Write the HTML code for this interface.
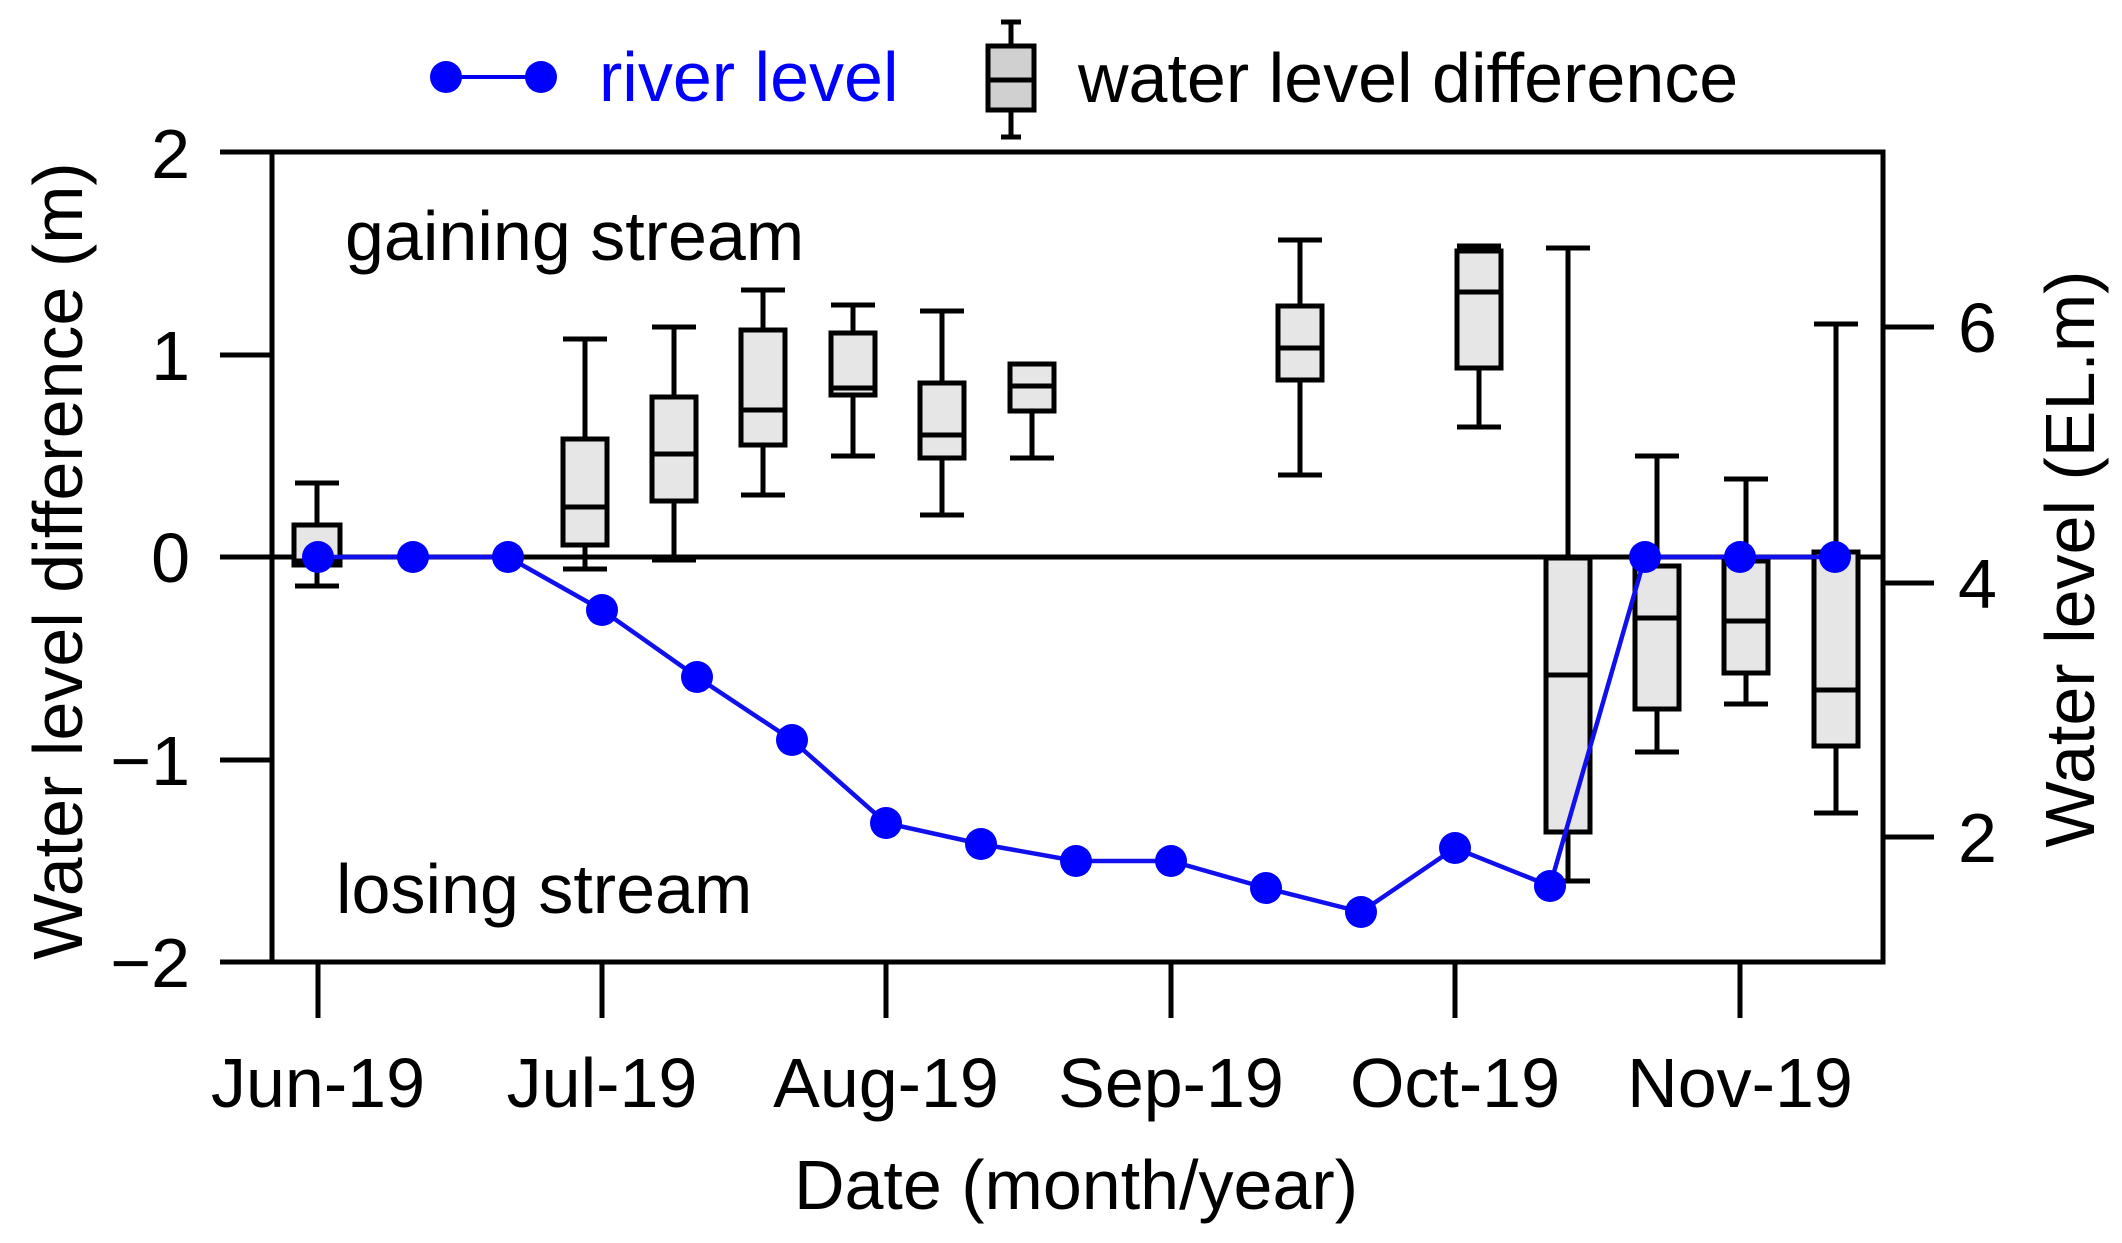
<!DOCTYPE html>
<html><head><meta charset="utf-8"><style>
html,body{margin:0;padding:0;background:#fff;}
svg{display:block;}
text{font-family:"Liberation Sans",Arial,sans-serif;font-size:70px;fill:#000;}
</style></head><body>
<svg width="2122" height="1243" viewBox="0 0 2122 1243" xmlns="http://www.w3.org/2000/svg">
<!-- legend -->
<line x1="446" y1="77" x2="541" y2="77" stroke="#0000ee" stroke-width="4"/>
<circle cx="446" cy="77" r="16" fill="#0000ff"/>
<circle cx="541" cy="77" r="16" fill="#0000ff"/>
<text x="599" y="101" style="fill:#0000ff">river level</text>
<g stroke="#000" stroke-width="5" fill="none">
<line x1="1011" y1="22" x2="1011" y2="46"/><line x1="1001" y1="22" x2="1021" y2="22"/>
<line x1="1011" y1="110" x2="1011" y2="137"/><line x1="1001" y1="137" x2="1021" y2="137"/>
<rect x="988" y="46" width="46" height="64" fill="#d0d0d0"/>
<line x1="988" y1="80" x2="1034" y2="80"/>
</g>
<text x="1078" y="102">water level difference</text>

<!-- axes -->
<g stroke="#000" stroke-width="5" fill="none">
<rect x="272" y="152" width="1611" height="810"/>
<line x1="220" y1="152" x2="272" y2="152"/>
<line x1="220" y1="355" x2="272" y2="355"/>
<line x1="220" y1="557" x2="1883" y2="557"/>
<line x1="220" y1="760" x2="272" y2="760"/>
<line x1="220" y1="962" x2="272" y2="962"/>
<line x1="1883" y1="327" x2="1934" y2="327"/>
<line x1="1883" y1="583" x2="1934" y2="583"/>
<line x1="1883" y1="837" x2="1934" y2="837"/>
<line x1="318" y1="962" x2="318" y2="1018"/>
<line x1="602" y1="962" x2="602" y2="1018"/>
<line x1="886" y1="962" x2="886" y2="1018"/>
<line x1="1171" y1="962" x2="1171" y2="1018"/>
<line x1="1455" y1="962" x2="1455" y2="1018"/>
<line x1="1740" y1="962" x2="1740" y2="1018"/>
</g>
<g text-anchor="end">
<text x="190" y="178">2</text>
<text x="190" y="380">1</text>
<text x="190" y="582">0</text>
<text x="190" y="785">−1</text>
<text x="190" y="987">−2</text>
</g>
<g>
<text x="1958" y="352">6</text>
<text x="1958" y="608">4</text>
<text x="1958" y="862">2</text>
</g>
<g text-anchor="middle">
<text x="318" y="1107">Jun-19</text>
<text x="602" y="1107">Jul-19</text>
<text x="886" y="1107">Aug-19</text>
<text x="1171" y="1107">Sep-19</text>
<text x="1455" y="1107">Oct-19</text>
<text x="1740" y="1107">Nov-19</text>
<text x="1076" y="1209">Date (month/year)</text>
<text transform="translate(82,561) rotate(-90)">Water level difference (m)</text>
<text transform="translate(2094,559) rotate(-90)">Water level (EL.m)</text>
</g>
<text x="345" y="260">gaining stream</text>
<text x="336" y="913">losing stream</text>

<!-- boxes -->
<g stroke="#000" stroke-width="5" fill="#e6e6e6">
<line x1="317" y1="483" x2="317" y2="586"/><line x1="295" y1="483" x2="339" y2="483"/><line x1="295" y1="586" x2="339" y2="586"/>
<rect x="294" y="525" width="46" height="40"/><line x1="294" y1="561" x2="340" y2="561"/>
<line x1="585" y1="339" x2="585" y2="569"/><line x1="563" y1="339" x2="607" y2="339"/><line x1="563" y1="569" x2="607" y2="569"/>
<rect x="563" y="439" width="44" height="106"/><line x1="563" y1="507" x2="607" y2="507"/>
<line x1="674" y1="327" x2="674" y2="560"/><line x1="652" y1="327" x2="696" y2="327"/><line x1="652" y1="560" x2="696" y2="560"/>
<rect x="652" y="397" width="44" height="104"/><line x1="652" y1="454" x2="696" y2="454"/>
<line x1="763" y1="290" x2="763" y2="495"/><line x1="741" y1="290" x2="785" y2="290"/><line x1="741" y1="495" x2="785" y2="495"/>
<rect x="741" y="330" width="44" height="115"/><line x1="741" y1="410" x2="785" y2="410"/>
<line x1="853" y1="305" x2="853" y2="456"/><line x1="831" y1="305" x2="875" y2="305"/><line x1="831" y1="456" x2="875" y2="456"/>
<rect x="831" y="333" width="44" height="62"/><line x1="831" y1="388" x2="875" y2="388"/>
<line x1="942" y1="311" x2="942" y2="515"/><line x1="920" y1="311" x2="964" y2="311"/><line x1="920" y1="515" x2="964" y2="515"/>
<rect x="920" y="383" width="44" height="75"/><line x1="920" y1="435" x2="964" y2="435"/>
<line x1="1032" y1="411" x2="1032" y2="458"/><line x1="1010" y1="458" x2="1054" y2="458"/>
<rect x="1010" y="364" width="44" height="47"/><line x1="1010" y1="386" x2="1054" y2="386"/>
<line x1="1300" y1="240" x2="1300" y2="475"/><line x1="1278" y1="240" x2="1322" y2="240"/><line x1="1278" y1="475" x2="1322" y2="475"/>
<rect x="1278" y="306" width="44" height="74"/><line x1="1278" y1="348" x2="1322" y2="348"/>
<line x1="1479" y1="246" x2="1479" y2="427"/><line x1="1457" y1="246" x2="1501" y2="246"/><line x1="1457" y1="427" x2="1501" y2="427"/>
<rect x="1457" y="251" width="44" height="117"/><line x1="1457" y1="292" x2="1501" y2="292"/>
<line x1="1568" y1="248" x2="1568" y2="881"/><line x1="1546" y1="248" x2="1590" y2="248"/><line x1="1546" y1="881" x2="1590" y2="881"/>
<rect x="1546" y="558" width="44" height="274"/><line x1="1546" y1="675" x2="1590" y2="675"/>
<line x1="1657" y1="456" x2="1657" y2="752"/><line x1="1635" y1="456" x2="1679" y2="456"/><line x1="1635" y1="752" x2="1679" y2="752"/>
<rect x="1635" y="566" width="44" height="143"/><line x1="1635" y1="618" x2="1679" y2="618"/>
<line x1="1746" y1="479" x2="1746" y2="704"/><line x1="1724" y1="479" x2="1768" y2="479"/><line x1="1724" y1="704" x2="1768" y2="704"/>
<rect x="1724" y="561" width="44" height="112"/><line x1="1724" y1="621" x2="1768" y2="621"/>
<line x1="1836" y1="324" x2="1836" y2="813"/><line x1="1814" y1="324" x2="1858" y2="324"/><line x1="1814" y1="813" x2="1858" y2="813"/>
<rect x="1814" y="552" width="44" height="194"/><line x1="1814" y1="690" x2="1858" y2="690"/>
</g>

<!-- river level -->
<polyline fill="none" stroke="#1010ee" stroke-width="4.5" points="318,557 413,557 508,557 602,610 697,677 792,740 886,823 981,844 1076,861 1171,861 1266,888 1361,912 1455,848 1550,886 1645,557 1740,557 1835,557"/>
<g fill="#0000ff">
<circle cx="318" cy="557" r="16"/><circle cx="413" cy="557" r="16"/><circle cx="508" cy="557" r="16"/>
<circle cx="602" cy="610" r="16"/><circle cx="697" cy="677" r="16"/><circle cx="792" cy="740" r="16"/>
<circle cx="886" cy="823" r="16"/><circle cx="981" cy="844" r="16"/><circle cx="1076" cy="861" r="16"/>
<circle cx="1171" cy="861" r="16"/><circle cx="1266" cy="888" r="16"/><circle cx="1361" cy="912" r="16"/>
<circle cx="1455" cy="848" r="16"/><circle cx="1550" cy="886" r="16"/><circle cx="1645" cy="557" r="16"/>
<circle cx="1740" cy="557" r="16"/><circle cx="1835" cy="557" r="16"/>
</g>
</svg>
</body></html>
